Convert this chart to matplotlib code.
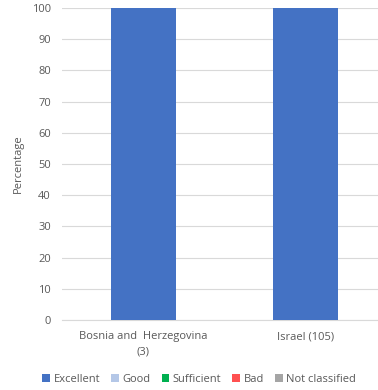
import numpy as np
import matplotlib.pyplot as plt

plt.rcParams['font.family'] = ['Open Sans', 'DejaVu Sans']

# Datos
paises = ['Bosnia and  Herzegovina\n(3)', 'Israel (105)']
clases = ['Excellent', 'Good', 'Sufficient', 'Bad', 'Not classified']
excellent = [100, 100]
good = [0, 0]
sufficient = [0, 0]
bad = [0, 0]
not_classified = [0, 0]
colores = ['#4472C4', '#B4C7E7', '#00B050', '#FF5050', '#A5A5A5']

valores = [excellent, good, sufficient, bad, not_classified]

fig = plt.figure(figsize=(3.78, 3.90), dpi=100)
ax = fig.add_axes([0.164, 0.1795, 0.836, 0.8])

x = np.arange(len(paises))
base = np.zeros(len(paises))
for nombre, serie, color in zip(clases, valores, colores):
    ax.bar(x, serie, 0.4, bottom=base, color=color, label=nombre, zorder=3)
    base = base + np.array(serie)

ax.set_xlim(-0.5, 1.446)
ax.set_ylim(0, 100)
ax.set_yticks(np.arange(0, 101, 10))
ax.set_xticks(x)
ax.set_xticklabels(paises, fontsize=8, color='#595959', linespacing=1.5,
                   va='top')
ax.tick_params(axis='y', labelsize=8, colors='#595959', length=0, pad=8)
ax.tick_params(axis='x', length=0, pad=8)
ax.yaxis.grid(True, color='#D9D9D9', linewidth=0.8, zorder=0)
for lado in ['top', 'right', 'left']:
    ax.spines[lado].set_visible(False)
ax.spines['bottom'].set_color('#D9D9D9')
ax.set_ylabel('Percentage', fontsize=8, color='#595959', labelpad=6)

fig.legend(loc='center', bbox_to_anchor=(0.527, 0.028), ncol=5, frameon=False,
           fontsize=8, handlelength=0.7, handleheight=0.7, handletextpad=0.3,
           columnspacing=1.0, labelcolor='#595959')

fig.savefig('out.png', dpi=100)
